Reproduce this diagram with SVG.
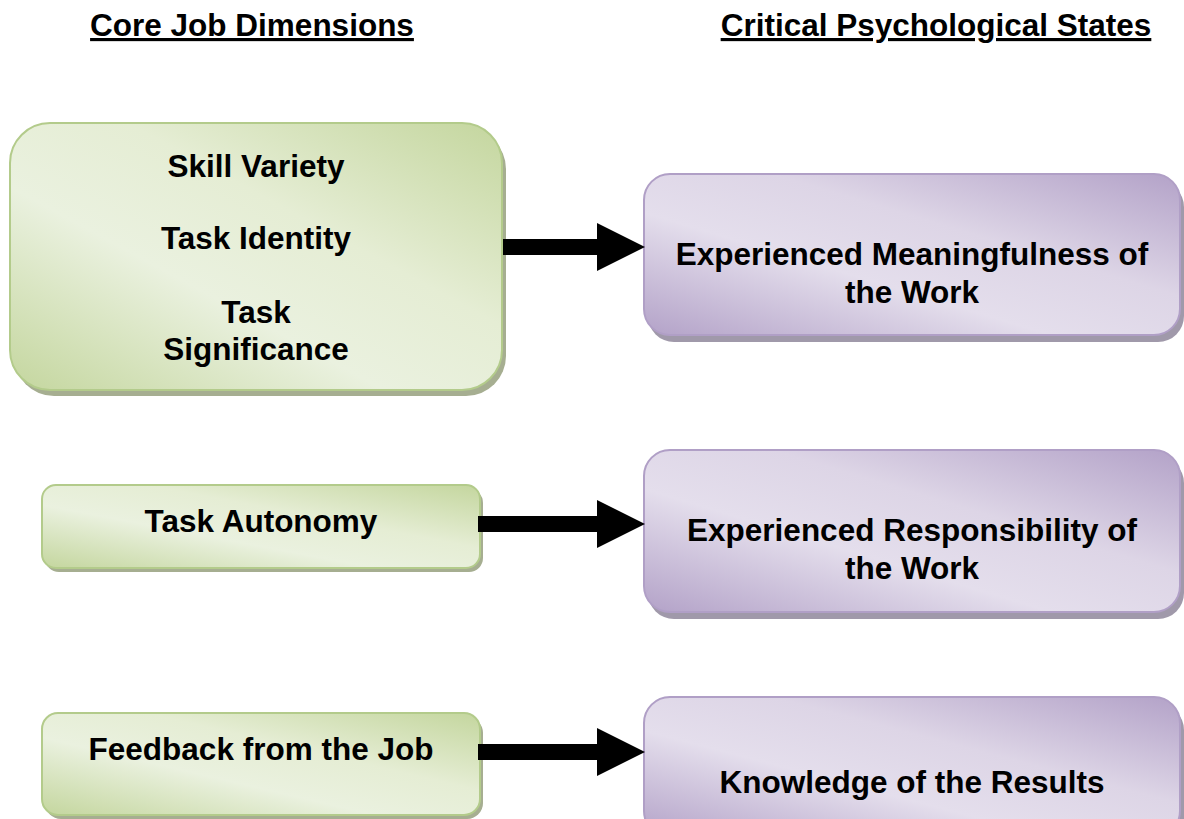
<svg xmlns="http://www.w3.org/2000/svg" width="1184" height="819" viewBox="0 0 1184 819">
<defs>
<linearGradient id="gg" x1="1" y1="0" x2="0" y2="1">
<stop offset="0" stop-color="#C4D69E"/>
<stop offset="0.38" stop-color="#E5EDD4"/>
<stop offset="0.62" stop-color="#EAF1DF"/>
<stop offset="1" stop-color="#C4D69E"/>
</linearGradient>
<linearGradient id="pg" x1="1" y1="0" x2="0" y2="1">
<stop offset="0" stop-color="#B3A2C8"/>
<stop offset="0.38" stop-color="#DDD5E6"/>
<stop offset="0.62" stop-color="#E4DEEC"/>
<stop offset="1" stop-color="#B3A2C8"/>
</linearGradient>
<style>
.g{fill:url(#gg);stroke:#B3CB8B;stroke-width:2}
.gs{fill:#A6AE91}
.p{fill:url(#pg);stroke:#B09FC6;stroke-width:2}
.ps{fill:#A099AA}
text{font-family:"Liberation Sans",Arial,sans-serif;font-weight:bold;font-size:31.5px;fill:#000;text-anchor:middle}
.h{text-decoration:underline}
.arrow{fill:#000}
</style>
</defs>
<rect width="1184" height="819" fill="#fff"/>
<g id="headings">
<text class="h" x="252" y="36">Core Job Dimensions</text>
<text class="h" x="936" y="36">Critical Psychological States</text>
</g>
<g id="core1">
<rect class="gs" x="14" y="129" width="492" height="267" rx="40"/>
<rect class="g" x="10" y="123" width="492" height="267" rx="40"/>
<text x="256" y="177">Skill Variety</text>
<text x="256" y="249">Task Identity</text>
<text x="256" y="323">Task</text>
<text x="256" y="360">Significance</text>
</g>
<g id="core2">
<rect class="gs" x="45" y="489" width="438" height="83" rx="14"/>
<rect class="g" x="42" y="485" width="438" height="83" rx="14"/>
<text x="261" y="532">Task Autonomy</text>
</g>
<g id="core3">
<rect class="gs" x="45" y="717" width="438" height="102" rx="16"/>
<rect class="g" x="42" y="713" width="438" height="102" rx="16"/>
<text x="261" y="760">Feedback from the Job</text>
</g>
<g id="state1">
<rect class="ps" x="648" y="181" width="536" height="161" rx="26"/>
<rect class="p" x="644" y="174" width="536" height="161" rx="26"/>
<text x="912" y="265">Experienced Meaningfulness of</text>
<text x="912" y="303">the Work</text>
</g>
<g id="state2">
<rect class="ps" x="648" y="457" width="536" height="162" rx="26"/>
<rect class="p" x="644" y="450" width="536" height="162" rx="26"/>
<text x="912" y="541">Experienced Responsibility of</text>
<text x="912" y="579">the Work</text>
</g>
<g id="state3">
<rect class="ps" x="648" y="704" width="536" height="140" rx="26"/>
<rect class="p" x="644" y="697" width="536" height="140" rx="26"/>
<text x="912" y="793">Knowledge of the Results</text>
</g>
<g id="connectors">
<path class="arrow" d="M503,239 H597 V223 L645,247 L597,271 V255 H503 Z"/>
<path class="arrow" d="M478,516 H597 V500 L645,524 L597,548 V532 H478 Z"/>
<path class="arrow" d="M478,744 H597 V728 L645,752 L597,776 V760 H478 Z"/>
</g>
</svg>
